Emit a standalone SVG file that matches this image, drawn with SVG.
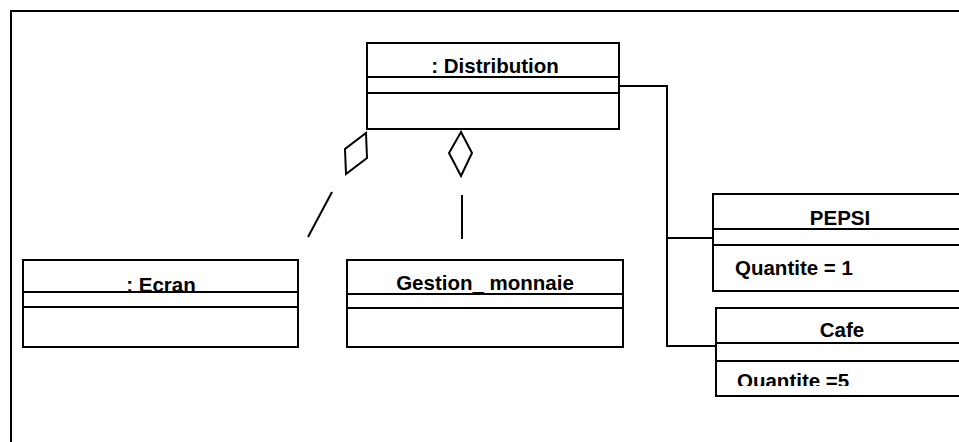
<svg xmlns="http://www.w3.org/2000/svg" width="959" height="442" viewBox="0 0 959 442">
  <style>
    .box { fill: #fff; stroke: #000; stroke-width: 2; }
    .ln { fill: none; stroke: #000; stroke-width: 2; }
    .t { font-family: "Liberation Sans", Arial, sans-serif; font-weight: bold; font-size: 20.5px; fill: #000; }
    .c { text-anchor: middle; }
  </style>
  <defs>
    <clipPath id="clipEcran"><rect x="23" y="260" width="275" height="31"/></clipPath>
    <clipPath id="clipCafe"><rect x="716" y="361" width="243" height="25"/></clipPath>
  </defs>
  <rect width="959" height="442" fill="#fff"/>
  <!-- frame -->
  <path class="ln" d="M11,442 V11 H959"/>

  <g id="connectors">
    <!-- aggregation to Ecran -->
    <polygon class="ln" points="366,133 367,158 346,174 345,149"/>
    <line class="ln" x1="332" y1="192" x2="308" y2="237"/>
    <!-- aggregation to Gestion_ monnaie -->
    <polygon class="ln" points="461,132 472,153 461,176 449,153"/>
    <line class="ln" x1="462" y1="195" x2="462" y2="239"/>
    <!-- links to PEPSI and Cafe -->
    <path class="ln" d="M619,86 H667 V346 H716"/>
    <line class="ln" x1="667" y1="238" x2="713" y2="238"/>
  </g>

  <g id="distribution">
    <rect class="box" x="367" y="43" width="252" height="86"/>
    <line class="ln" x1="367" y1="77" x2="619" y2="77"/>
    <line class="ln" x1="367" y1="93" x2="619" y2="93"/>
    <text class="t c" x="495" y="73">: Distribution</text>
  </g>

  <g id="ecran">
    <rect class="box" x="23" y="260" width="275" height="87"/>
    <text class="t c" x="161" y="292" clip-path="url(#clipEcran)">: Ecran</text>
    <line class="ln" x1="23" y1="292" x2="298" y2="292"/>
    <line class="ln" x1="23" y1="307" x2="298" y2="307"/>
  </g>

  <g id="gestion_monnaie">
    <rect class="box" x="347" y="260" width="276" height="87"/>
    <line class="ln" x1="347" y1="294" x2="623" y2="294"/>
    <line class="ln" x1="347" y1="308" x2="623" y2="308"/>
    <text class="t c" x="485" y="290">Gestion_ monnaie</text>
  </g>

  <g id="pepsi">
    <path class="box" d="M962,194 H713 V291 H962"/>
    <line class="ln" x1="713" y1="229" x2="962" y2="229"/>
    <line class="ln" x1="713" y1="245" x2="962" y2="245"/>
    <text class="t c" x="840" y="225">PEPSI</text>
    <text class="t" x="735" y="275">Quantite = 1</text>
  </g>

  <g id="cafe">
    <path class="box" d="M962,308 H716 V396 H962"/>
    <line class="ln" x1="716" y1="343" x2="962" y2="343"/>
    <line class="ln" x1="716" y1="361" x2="962" y2="361"/>
    <text class="t c" x="842" y="337">Cafe</text>
    <text class="t" x="737" y="388" clip-path="url(#clipCafe)">Quantite =5</text>
  </g>
</svg>
